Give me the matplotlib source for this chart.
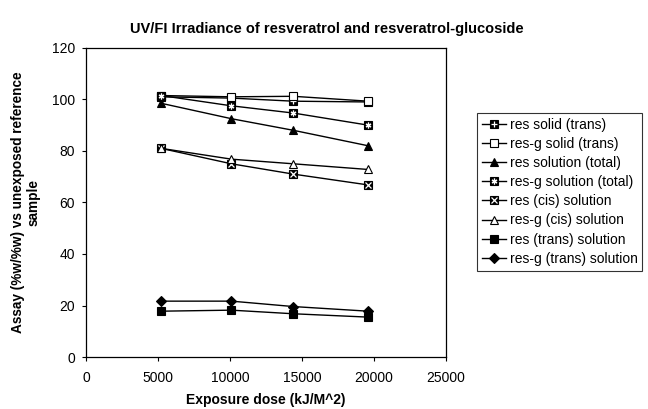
import matplotlib
matplotlib.use("Agg")
import matplotlib.pyplot as plt
from matplotlib.legend_handler import HandlerTuple

plt.rcParams['font.family'] = ['Liberation Sans', 'DejaVu Sans']

dose = [5200, 10100, 14400, 19600]

res_solid = [101.0, 100.5, 99.3, 99.0]
resg_solid = [101.5, 101.0, 101.2, 99.3]
res_sol_total = [98.5, 92.5, 88.0, 82.0]
resg_sol_total = [101.5, 97.5, 94.7, 90.0]
res_cis = [81.0, 75.0, 71.0, 66.8]
resg_cis = [81.0, 76.8, 75.0, 72.8]
res_trans = [17.8, 18.2, 16.8, 15.5]
resg_trans = [21.7, 21.7, 19.6, 17.8]

labels = ['res solid (trans)', 'res-g solid (trans)', 'res solution (total)',
          'res-g solution (total)', 'res (cis) solution', 'res-g (cis) solution',
          'res (trans) solution', 'res-g (trans) solution']

fig = plt.figure(figsize=(6.48, 4.09), dpi=100)
ax = fig.add_axes([0.133, 0.127, 0.555, 0.756])

ms = 5.5
lw = 1.0

def series(y, face, marker, inner=None):
    base, = ax.plot(dose, y, color='black', lw=lw, marker=marker, ms=ms,
                    mfc=face, mec='black', mew=0.8)
    if inner is None:
        return base
    top, = ax.plot(dose, y, ls='none', marker=inner, ms=ms * 0.75,
                   mec='white', mew=0.9)
    return (base, top)

handles = [
    series(res_solid, 'black', 's', '+'),
    series(resg_solid, 'white', 's'),
    series(res_sol_total, 'black', '^'),
    series(resg_sol_total, 'black', 's', (6, 2, 0)),
    series(res_cis, 'black', 's', 'x'),
    series(resg_cis, 'white', '^'),
    series(res_trans, 'black', 's'),
    series(resg_trans, 'black', 'D'),
]

ax.set_xlim(0, 25000)
ax.set_ylim(0, 120)
ax.set_xticks(range(0, 25001, 5000))
ax.set_yticks(range(0, 121, 20))
ax.tick_params(axis='both', labelsize=10, length=3, width=0.8, direction='out')
ax.tick_params(axis='x', pad=7)
ax.tick_params(axis='y', pad=5)
for s in ax.spines.values():
    s.set_linewidth(0.9)

ax.set_xlabel('Exposure dose (kJ/M^2)', fontsize=10, fontweight='bold', labelpad=6)
ax.set_ylabel('Assay (%w/%w) vs unexposed reference\nsample', fontsize=9.8,
              fontweight='bold', labelpad=8)
fig.text(0.505, 0.929, 'UV/FI Irradiance of resveratrol and resveratrol-glucoside',
         ha='center', va='center', fontsize=10.5, fontweight='bold')

leg = fig.legend(handles, labels, loc='upper left', bbox_to_anchor=(0.736, 0.724),
                 fontsize=10, frameon=True, fancybox=False, edgecolor='black',
                 handlelength=1.75, handletextpad=0.25, labelspacing=0.37,
                 borderpad=0.35, borderaxespad=0,
                 handler_map={tuple: HandlerTuple(ndivide=1, pad=0)})
leg.get_frame().set_linewidth(0.8)

fig.savefig('out.png', dpi=100)
